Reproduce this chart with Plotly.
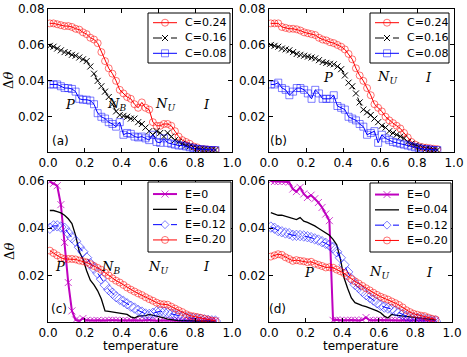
"""Delta-theta vs temperature, four panels (a)-(d)."""

import plotly.graph_objects as go

W, H = 467, 357

temperature = [0.01, 0.03, 0.05, 0.07, 0.09, 0.11, 0.13, 0.15, 0.17, 0.19,
               0.21, 0.23, 0.25, 0.27, 0.29, 0.31, 0.33, 0.35, 0.37, 0.39,
               0.41, 0.43, 0.45, 0.47, 0.49, 0.51, 0.53, 0.55, 0.57, 0.59,
               0.61, 0.63, 0.65, 0.67, 0.69, 0.71, 0.73, 0.75, 0.77, 0.79,
               0.81, 0.83, 0.85, 0.87, 0.89, 0.91]

# panel (a)
a_c24 = [0.072, 0.072, 0.0715, 0.071, 0.0705, 0.0705, 0.070, 0.069, 0.0685, 0.067,
         0.066, 0.064, 0.063, 0.061, 0.056, 0.051, 0.047, 0.044, 0.040, 0.035,
         0.033, 0.031, 0.030, 0.027, 0.025, 0.028, 0.025, 0.024, 0.017, 0.015,
         0.015, 0.016, 0.016, 0.015, 0.012, 0.009, 0.007, 0.006, 0.005, 0.0035,
         0.003, 0.002, 0.002, 0.0018, 0.0015, 0.0015]
a_c16 = [0.0595, 0.059, 0.058, 0.057, 0.056, 0.0555, 0.0545, 0.054, 0.053, 0.052,
         0.051, 0.048, 0.044, 0.040, 0.037, 0.034, 0.031, 0.027, 0.023, 0.021,
         0.0205, 0.020, 0.019, 0.019, 0.017, 0.016, 0.014, 0.012, 0.010, 0.012,
         0.011, 0.009, 0.011, 0.009, 0.007, 0.006, 0.005, 0.004, 0.0035, 0.003,
         0.0025, 0.002, 0.002, 0.0018, 0.0015, 0.0015]
a_c08 = [0.038, 0.038, 0.038, 0.037, 0.036, 0.036, 0.0355, 0.034, 0.030, 0.0295,
         0.0295, 0.029, 0.027, 0.022, 0.020, 0.019, 0.017, 0.016, 0.0145, 0.017,
         0.010, 0.011, 0.0105, 0.009, 0.0085, 0.009, 0.008, 0.007, 0.010, 0.006,
         0.0055, 0.008, 0.0055, 0.005, 0.0045, 0.004, 0.004, 0.0035, 0.003, 0.0025,
         0.002, 0.002, 0.0018, 0.0015, 0.0015, 0.0015]

# panel (b)
b_c24 = [0.072, 0.072, 0.072, 0.070, 0.0695, 0.069, 0.069, 0.0687, 0.068, 0.067,
         0.0665, 0.066, 0.0655, 0.064, 0.063, 0.0625, 0.0615, 0.061, 0.060, 0.059,
         0.0575, 0.055, 0.052, 0.047, 0.043, 0.040, 0.036, 0.032, 0.027, 0.025,
         0.023, 0.020, 0.018, 0.0165, 0.015, 0.0135, 0.011, 0.0085, 0.006, 0.0045,
         0.0035, 0.003, 0.0028, 0.0025, 0.0022, 0.002]
b_c16 = [0.060, 0.0595, 0.059, 0.058, 0.0575, 0.057, 0.056, 0.055, 0.0545, 0.054,
         0.0535, 0.053, 0.0525, 0.0515, 0.0505, 0.050, 0.0495, 0.0492, 0.048, 0.0465,
         0.043, 0.039, 0.037, 0.033, 0.028, 0.024, 0.0225, 0.021, 0.019, 0.017,
         0.015, 0.014, 0.012, 0.011, 0.010, 0.009, 0.008, 0.006, 0.005, 0.004,
         0.0034, 0.0028, 0.0022, 0.002, 0.0016, 0.0015]
b_c08 = [0.038, 0.038, 0.039, 0.036, 0.035, 0.032, 0.034, 0.036, 0.036, 0.035,
         0.033, 0.030, 0.035, 0.033, 0.030, 0.030, 0.030, 0.032, 0.026, 0.025,
         0.024, 0.020, 0.019, 0.018, 0.016, 0.0145, 0.010, 0.011, 0.012, 0.0055,
         0.010, 0.008, 0.007, 0.006, 0.0055, 0.005, 0.0045, 0.004, 0.0035, 0.003,
         0.0025, 0.002, 0.002, 0.0018, 0.0015, 0.0015]

# panel (c)
c_e00 = [0.0597, 0.059, 0.058, 0.050, 0.034, 0.017, 0.005, 0.0012, 0.0008, 0.0018,
         0.001, 0.0008, 0.0009, 0.001, 0.0008, 0.0009, 0.001, 0.0011, 0.001, 0.0009,
         0.001, 0.0008, 0.0009, 0.001, 0.0009, 0.0008, 0.001, 0.0011, 0.0009, 0.0008,
         0.0009, 0.001, 0.0008, 0.0009, 0.0008, 0.0009, 0.0008, 0.0008, 0.0009, 0.0008,
         0.0008, 0.0008, 0.0009, 0.0008, 0.0008, 0.0008]
c_e04 = [0.0475, 0.0475, 0.047, 0.0465, 0.0455, 0.044, 0.042, 0.037, 0.030, 0.027,
         0.022, 0.018, 0.016, 0.0135, 0.010, 0.005, 0.0048, 0.0045, 0.0042, 0.004,
         0.0037, 0.0035, 0.0025, 0.002, 0.0028, 0.0028, 0.003, 0.0035, 0.0032, 0.0028,
         0.0025, 0.002, 0.0015, 0.0012, 0.001, 0.0009, 0.0009, 0.0008, 0.0008, 0.0008,
         0.0008, 0.0007, 0.0007, 0.0007, 0.0007, 0.0007]
c_e12 = [0.040, 0.041, 0.041, 0.0405, 0.040, 0.038, 0.036, 0.0345, 0.032, 0.030,
         0.0275, 0.025, 0.023, 0.021, 0.0185, 0.016, 0.014, 0.0125, 0.011, 0.0099,
         0.009, 0.008, 0.007, 0.0062, 0.0052, 0.0045, 0.0037, 0.0035, 0.004, 0.0047,
         0.0049, 0.0045, 0.0042, 0.0038, 0.0034, 0.003, 0.0026, 0.0022, 0.002, 0.0018,
         0.0016, 0.0014, 0.0012, 0.001, 0.0008, 0.0007]
c_e20 = [0.0305, 0.0295, 0.0285, 0.0275, 0.027, 0.027, 0.027, 0.0268, 0.0263, 0.026,
         0.0255, 0.0248, 0.024, 0.0232, 0.0224, 0.0212, 0.020, 0.0188, 0.0178, 0.017,
         0.016, 0.0149, 0.014, 0.0132, 0.0124, 0.0117, 0.0108, 0.010, 0.0093, 0.0085,
         0.0079, 0.0078, 0.0076, 0.0068, 0.006, 0.0052, 0.0045, 0.0036, 0.003, 0.0027,
         0.0024, 0.0021, 0.0017, 0.0013, 0.0009, 0.0007]

# panel (d)
d_e00 = [0.060, 0.0598, 0.0598, 0.0598, 0.0598, 0.0595, 0.0566, 0.0555, 0.0573, 0.0545,
         0.053, 0.054, 0.0525, 0.0509, 0.0488, 0.046, 0.0432, 0.001, 0.0012, 0.001,
         0.0009, 0.001, 0.0011, 0.001, 0.0009, 0.0012, 0.0022, 0.001, 0.0009, 0.001,
         0.0011, 0.001, 0.0009, 0.001, 0.001, 0.0009, 0.001, 0.0009, 0.0009, 0.001,
         0.0009, 0.0009, 0.001, 0.0009, 0.0009, 0.0009]
d_e04 = [0.0466, 0.046, 0.0455, 0.0455, 0.045, 0.0445, 0.044, 0.0437, 0.0445, 0.043,
         0.0425, 0.0418, 0.041, 0.040, 0.039, 0.038, 0.037, 0.0353, 0.033, 0.027,
         0.019, 0.0145, 0.0105, 0.0085, 0.0078, 0.0072, 0.0068, 0.0062, 0.0058, 0.005,
         0.0042, 0.0028, 0.002, 0.0035, 0.0032, 0.003, 0.0028, 0.0026, 0.0024, 0.0022,
         0.002, 0.0018, 0.0016, 0.0015, 0.0013, 0.0012]
d_e12 = [0.0405, 0.040, 0.039, 0.0385, 0.038, 0.0377, 0.037, 0.037, 0.0369, 0.0367,
         0.0364, 0.036, 0.0355, 0.035, 0.0343, 0.0336, 0.0328, 0.0318, 0.030, 0.0275,
         0.0245, 0.0215, 0.0185, 0.0162, 0.0149, 0.0133, 0.0118, 0.0107, 0.0096, 0.0084,
         0.0074, 0.0066, 0.0062, 0.0058, 0.005, 0.0042, 0.0035, 0.0028, 0.0025, 0.0021,
         0.0019, 0.0017, 0.0015, 0.0012, 0.0009, 0.0007]
d_e20 = [0.028, 0.0285, 0.029, 0.0287, 0.0277, 0.027, 0.0262, 0.0265, 0.0262, 0.026,
         0.0256, 0.0258, 0.025, 0.0245, 0.024, 0.0234, 0.0235, 0.0233, 0.0225, 0.0218,
         0.021, 0.0198, 0.0185, 0.0175, 0.0166, 0.0156, 0.0146, 0.0137, 0.0127, 0.0118,
         0.011, 0.0104, 0.0098, 0.009, 0.0083, 0.0075, 0.0065, 0.0053, 0.0045, 0.0038,
         0.0034, 0.003, 0.0028, 0.0022, 0.0017, 0.0014]

FONT = "DejaVu Sans"
SERIF = "DejaVu Serif"

# panel boxes in pixels: (left, right, top, bottom)
BOXES = {
    "a": (48, 232, 9, 152),
    "b": (269, 454, 9, 152),
    "c": (48, 232, 181, 322),
    "d": (269, 452, 181, 322),
}
# legend boxes in pixels: (left, top, right, bottom)
LEGEND_BOXES = {
    "a": (148, 13, 230, 63),
    "b": (370, 13, 449, 63),
    "c": (148, 182, 231, 252),
    "d": (370, 183, 451, 252),
}

RED_O = dict(symbol="circle", size=7, color="rgba(255,0,0,0.55)")
C_STYLES = [
    ("C=0.24", dict(color="red", width=1), RED_O),
    ("C=0.16", dict(color="black", width=1, dash="dash"), dict(symbol="x", size=6, color="black")),
    ("C=0.08", dict(color="blue", width=1), dict(symbol="square", size=7, color="rgba(0,0,255,0.5)")),
]
E_STYLES = [
    ("E=0", dict(color="#bf00bf", width=2), dict(symbol="x", size=7, color="rgba(191,0,191,0.75)")),
    ("E=0.04", dict(color="black", width=1.3), None),
    ("E=0.12", dict(color="blue", width=1, dash="dash"), dict(symbol="diamond", size=8, color="rgba(0,0,255,0.5)")),
    ("E=0.20", dict(color="red", width=1), RED_O),
]

TRACE_SYMBOL = {"circle": "circle-open", "square": "square-open",
                "x": "x-thin-open", "diamond": "diamond-open"}


def px_x(p):
    return p / W


def px_y(p):
    return 1 - p / H


def legend_shapes(box, styles):
    """Matplotlib-like legend box: compact rows, sample line with marker."""
    left, top, right, bottom = box
    step = 15.3
    first = (top + bottom) / 2 - step * (len(styles) - 1) / 2
    shapes = [dict(type="rect", xref="paper", yref="paper", layer="above",
                   x0=px_x(left), x1=px_x(right), y0=px_y(bottom), y1=px_y(top),
                   fillcolor="white", line=dict(color="black", width=1))]
    texts = []
    for k, (name, line, marker) in enumerate(styles):
        y = first + k * step
        shapes.append(dict(type="line", xref="paper", yref="paper", layer="above",
                           x0=px_x(left + 5), x1=px_x(left + 29), y0=px_y(y), y1=px_y(y),
                           line=line))
        if marker:
            cx, h = left + 17, marker["size"] / 2
            mline = dict(color=marker["color"], width=1)
            sym = marker["symbol"]
            if sym in ("circle", "square"):
                shapes.append(dict(type="circle" if sym == "circle" else "rect",
                                   xref="paper", yref="paper", layer="above",
                                   x0=px_x(cx - h), x1=px_x(cx + h),
                                   y0=px_y(y + h), y1=px_y(y - h), line=mline))
            elif sym == "x":
                path = (f"M{px_x(cx - h)},{px_y(y - h)} L{px_x(cx + h)},{px_y(y + h)} "
                        f"M{px_x(cx - h)},{px_y(y + h)} L{px_x(cx + h)},{px_y(y - h)}")
                shapes.append(dict(type="path", path=path, xref="paper", yref="paper",
                                   layer="above", line=mline))
            else:
                path = (f"M{px_x(cx)},{px_y(y - h)} L{px_x(cx + h)},{px_y(y)} "
                        f"L{px_x(cx)},{px_y(y + h)} L{px_x(cx - h)},{px_y(y)} Z")
                shapes.append(dict(type="path", path=path, xref="paper", yref="paper",
                                   layer="above", line=mline))
        texts.append(dict(x=px_x(left + 35), y=px_y(y), xref="paper", yref="paper",
                          text=name, showarrow=False, xanchor="left", yanchor="middle",
                          font=dict(family=FONT, size=11, color="black")))
    return shapes, texts


fig = go.Figure()

panels = [
    ("a", "", [a_c24, a_c16, a_c08], C_STYLES, [0.0004, 0.08], [0.02, 0.04, 0.06, 0.08]),
    ("b", "2", [b_c24, b_c16, b_c08], C_STYLES, [0.0004, 0.08], [0.02, 0.04, 0.06, 0.08]),
    ("c", "3", [c_e00, c_e04, c_e12, c_e20], E_STYLES, [0.0003, 0.06], [0.02, 0.04, 0.06]),
    ("d", "4", [d_e00, d_e04, d_e12, d_e20], E_STYLES, [0.0003, 0.06], [0.02, 0.04, 0.06]),
]

all_shapes = []
for key, n, series, styles, yrange, yticks in panels:
    left, right, top, bottom = BOXES[key]
    for (name, line, marker), ys in zip(styles, series):
        mk = None
        if marker:
            mk = dict(symbol=TRACE_SYMBOL[marker["symbol"]], size=marker["size"],
                      color=marker["color"], line=dict(width=1))
        fig.add_trace(go.Scatter(
            x=temperature, y=ys, name=name,
            mode="lines+markers" if marker else "lines",
            line=line, marker=mk,
            xaxis="x" + n, yaxis="y" + n,
        ))
    axis_common = dict(
        showline=True, linecolor="black", linewidth=1, mirror="ticks",
        ticks="inside", ticklen=4, tickcolor="black", tickwidth=1,
        showgrid=False, zeroline=False, automargin=False,
        tickfont=dict(family=FONT, size=12, color="black"),
    )
    fig.update_layout(**{
        "xaxis" + n: dict(domain=[px_x(left), px_x(right)], range=[0, 1],
                          anchor="y" + n, tickvals=[0, 0.2, 0.4, 0.6, 0.8, 1.0],
                          tickformat=".1f", **axis_common),
        "yaxis" + n: dict(domain=[px_y(bottom), px_y(top)], range=yrange,
                          anchor="x" + n, tickvals=yticks, tickformat=".2f",
                          **axis_common),
    })
    shapes, texts = legend_shapes(LEGEND_BOXES[key], styles)
    all_shapes += shapes
    for t in texts:
        fig.add_annotation(**t)

# phase labels
phase_labels = [
    ("", [(0.12, 0.027, "P"), (0.374, 0.027, "N<sub>B</sub>"), (0.636, 0.027, "N<sub>U</sub>"), (0.863, 0.027, "I")]),
    ("2", [(0.32, 0.042, "P"), (0.636, 0.042, "N<sub>U</sub>"), (0.861, 0.042, "I")]),
    ("3", [(0.067, 0.024, "P"), (0.338, 0.0234, "N<sub>B</sub>"), (0.60, 0.0234, "N<sub>U</sub>"), (0.863, 0.024, "I")]),
    ("4", [(0.22, 0.0213, "P"), (0.60, 0.0213, "N<sub>U</sub>"), (0.875, 0.0213, "I")]),
]
for n, labels in phase_labels:
    for x, y, text in labels:
        fig.add_annotation(x=x, y=y, xref="x" + n, yref="y" + n, text="<i>" + text + "</i>",
                           xanchor="center", yanchor="middle", showarrow=False,
                           font=dict(family=SERIF, size=13, color="black"))

panel_tags = [("", 0.067, 0.0066, "(a)"), ("2", 0.05, 0.0066, "(b)"),
              ("3", 0.061, 0.0057, "(c)"), ("4", 0.044, 0.0057, "(d)")]
for n, x, y, text in panel_tags:
    fig.add_annotation(x=x, y=y, xref="x" + n, yref="y" + n, text=text, showarrow=False,
                       xanchor="center", yanchor="middle",
                       font=dict(family=FONT, size=12, color="black"))

# axis titles
for ypix in (81, 252):
    fig.add_annotation(x=px_x(9), y=px_y(ypix), xref="paper", yref="paper",
                       text="Δ<i>θ</i>", textangle=-90, showarrow=False,
                       xanchor="center", yanchor="middle",
                       font=dict(family=SERIF, size=13, color="black"))
for xpix in (140, 360):
    fig.add_annotation(x=px_x(xpix), y=px_y(346), xref="paper", yref="paper",
                       text="temperature", showarrow=False,
                       xanchor="center", yanchor="middle",
                       font=dict(family=FONT, size=12, color="black"))

fig.update_layout(
    template="none",
    width=W, height=H,
    margin=dict(l=0, r=0, t=0, b=0, autoexpand=False),
    paper_bgcolor="white",
    plot_bgcolor="rgba(0,0,0,0)",
    showlegend=False,
    shapes=all_shapes,
)

# drop the browser's default 8px body margin so the figure fills the window
fig.write_html("out.html", config={"displayModeBar": False},
               post_script="document.body.style.margin = '0';")
